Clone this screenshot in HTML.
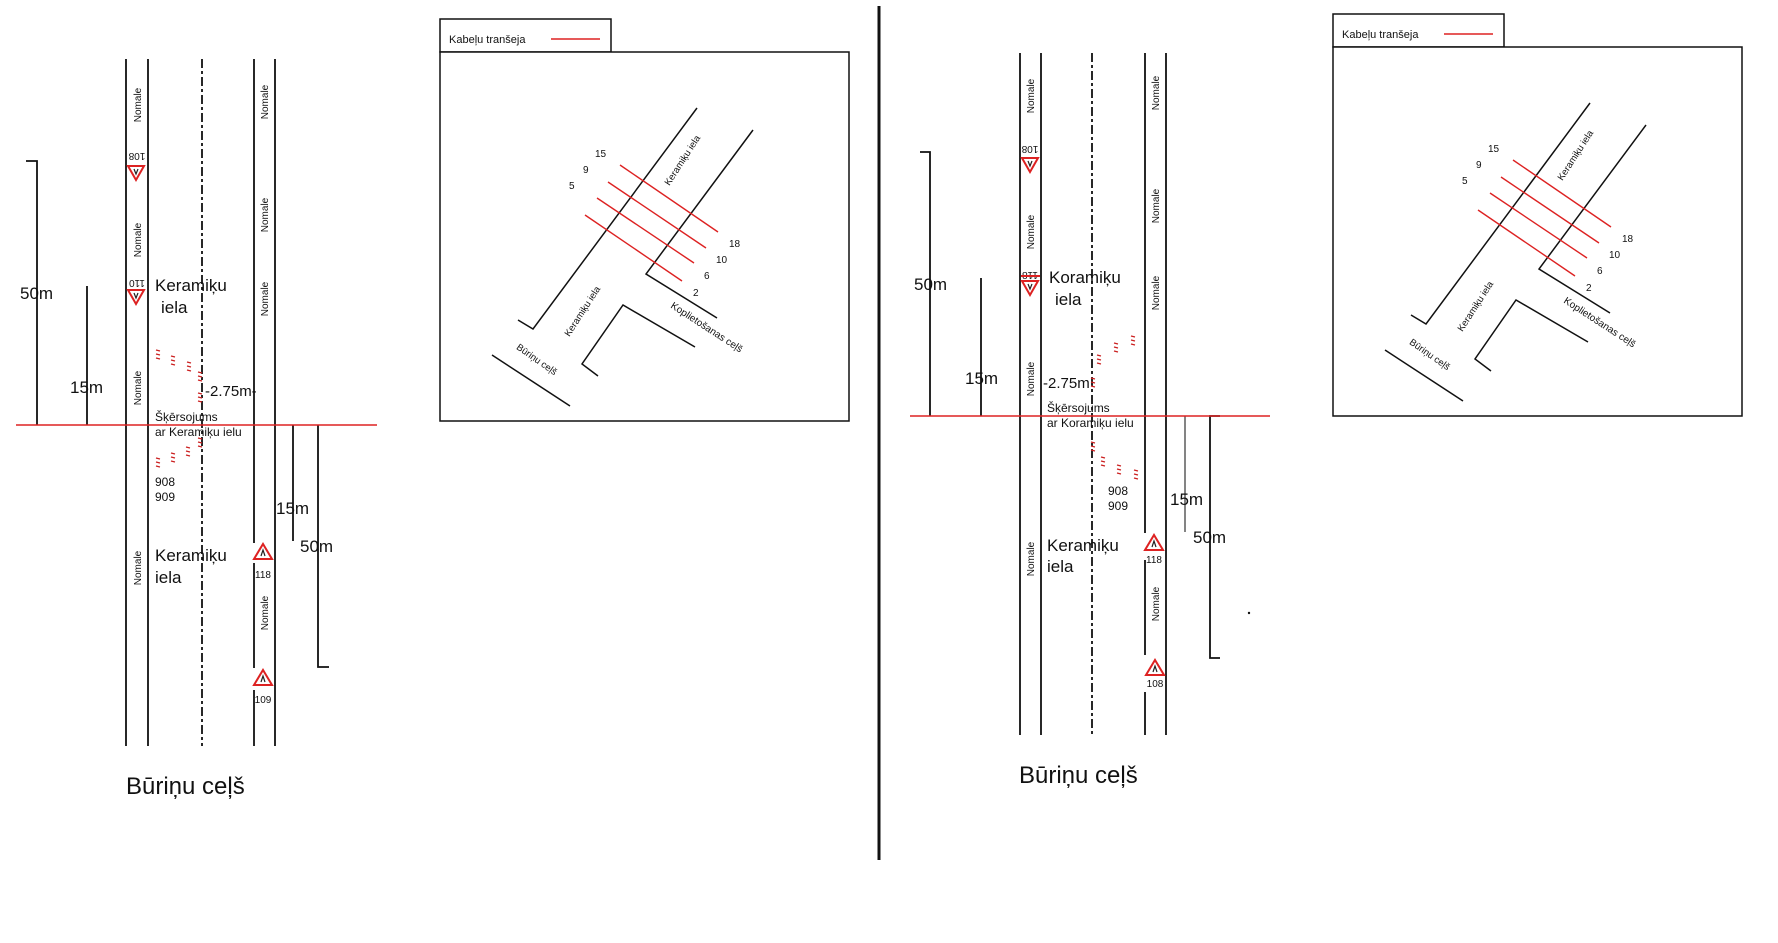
<!DOCTYPE html>
<html><head><meta charset="utf-8"><style>
html,body{margin:0;padding:0;background:#fff;}
svg{display:block;}
text{font-family:"Liberation Sans",Arial,sans-serif;fill:#111;}
</style></head><body>
<svg width="1778" height="943" viewBox="0 0 1778 943" xmlns="http://www.w3.org/2000/svg">
<defs>
<g id="sd"><polygon points="-8,-6 8,-6 0,8" fill="#fff" stroke="#d22" stroke-width="2"/><path d="M-2,-3 L0,2 L2,-3" stroke="#222" stroke-width="1.2" fill="none"/></g>
<g id="su"><polygon points="-9,7 9,7 0,-8" fill="#fff" stroke="#d22" stroke-width="2"/><path d="M-2,4 L0,-2 L2,4" stroke="#222" stroke-width="1.2" fill="none"/></g>
<g id="rm"><path d="M-2,-5 L2,-4 M-2,-1 L2,0 M-2,3 L2,4" stroke="#c22" stroke-width="1.4"/></g>
<g id="inset" stroke="#111" stroke-width="1.5" fill="none">
<rect x="440" y="19" width="171" height="33" fill="#fff"/>
<rect x="440" y="52" width="409" height="369" fill="#fff"/>
<line x1="551" y1="39" x2="600" y2="39" stroke="#d22"/>
<polyline points="518,320 533,329 697,108"/>
<polyline points="753,130 646,274 717,318"/>
<polyline points="598,376 582,364 623,305 695,347"/>
<line x1="492" y1="355" x2="570" y2="406"/>
<g stroke="#d22" stroke-width="1.4">
<line x1="620" y1="165" x2="718" y2="232"/>
<line x1="608" y1="182" x2="706" y2="248"/>
<line x1="597" y1="198" x2="694" y2="263"/>
<line x1="585" y1="215" x2="682" y2="281"/>
</g>
</g>
<g id="insetText" font-size="10">
<text x="449" y="43" font-size="11">Kabeļu tranšeja</text>
<text x="595" y="157">15</text><text x="583" y="173">9</text><text x="569" y="189">5</text>
<text x="729" y="247">18</text><text x="716" y="263">10</text><text x="704" y="279">6</text><text x="693" y="296">2</text>
<text transform="translate(685,162) rotate(-57)" text-anchor="middle" font-size="9.5">Keramiķu iela</text>
<text transform="translate(585,313) rotate(-57)" text-anchor="middle" font-size="9.5">Keramiķu iela</text>
<text transform="translate(705,330) rotate(33)" text-anchor="middle" font-size="10">Koplietošanas ceļš</text>
<text transform="translate(535,362) rotate(35)" text-anchor="middle" font-size="9.5">Būriņu ceļš</text>
</g>
</defs>

<!-- divider -->
<line x1="879" y1="6" x2="879" y2="860" stroke="#111" stroke-width="3"/>

<!-- LEFT PANEL -->
<g stroke="#111" stroke-width="1.8" fill="none">
<line x1="126" y1="59" x2="126" y2="746"/>
<line x1="148" y1="59" x2="148" y2="746"/>
<line x1="202" y1="59" x2="202" y2="746" stroke-dasharray="9 3 3 3"/>
<line x1="254" y1="59" x2="254" y2="543"/>
<line x1="254" y1="563" x2="254" y2="668"/>
<line x1="254" y1="690" x2="254" y2="746"/>
<line x1="275" y1="59" x2="275" y2="746"/>
<polyline points="26,161 37,161 37,425"/>
<line x1="87" y1="286" x2="87" y2="425"/>
<line x1="293" y1="425" x2="293" y2="541"/>
<polyline points="318,425 318,667 329,667"/>
<line x1="16" y1="425" x2="377" y2="425" stroke="#d22" stroke-width="1.5"/>
</g>
<g font-size="17">
<text x="20" y="299">50m</text><text x="70" y="393">15m</text>
<text x="276" y="514">15m</text><text x="300" y="552">50m</text>
</g>
<text x="205" y="396" font-size="15">-2.75m-</text>
<g font-size="17"><text x="155" y="291">Keramiķu</text><text x="161" y="313">iela</text>
<text x="155" y="561">Keramiķu</text><text x="155" y="583">iela</text></g>
<g font-size="12"><text x="155" y="421">Šķērsojums</text><text x="155" y="436">ar Keramiķu ielu</text>
<text x="155" y="486">908</text><text x="155" y="501">909</text></g>
<text x="126" y="794" font-size="24">Būriņu ceļš</text>
<g font-size="10">
<text transform="translate(141,105) rotate(-90)" text-anchor="middle">Nomale</text>
<text transform="translate(141,240) rotate(-90)" text-anchor="middle">Nomale</text>
<text transform="translate(141,388) rotate(-90)" text-anchor="middle">Nomale</text>
<text transform="translate(141,568) rotate(-90)" text-anchor="middle">Nomale</text>
<text transform="translate(268,102) rotate(-90)" text-anchor="middle">Nomale</text>
<text transform="translate(268,215) rotate(-90)" text-anchor="middle">Nomale</text>
<text transform="translate(268,299) rotate(-90)" text-anchor="middle">Nomale</text>
<text transform="translate(268,613) rotate(-90)" text-anchor="middle">Nomale</text>
<text transform="translate(137,153) rotate(180)" text-anchor="middle">108</text>
<text transform="translate(137,280) rotate(180)" text-anchor="middle">110</text>
<text x="263" y="578" text-anchor="middle">118</text>
<text x="263" y="703" text-anchor="middle">109</text>
</g>
<use href="#sd" x="136" y="172"/><use href="#sd" x="136" y="296"/>
<use href="#su" x="263" y="552"/><use href="#su" x="263" y="678"/>
<use href="#rm" x="158" y="355"/><use href="#rm" x="173" y="361"/><use href="#rm" x="189" y="367"/>
<use href="#rm" x="200" y="377"/><use href="#rm" x="200" y="398"/><use href="#rm" x="200" y="443"/>
<use href="#rm" x="188" y="452"/><use href="#rm" x="173" y="458"/><use href="#rm" x="158" y="463"/>
<use href="#inset"/><use href="#insetText"/>

<!-- RIGHT PANEL -->
<g stroke="#111" stroke-width="1.8" fill="none">
<line x1="1020" y1="53" x2="1020" y2="735"/>
<line x1="1041" y1="53" x2="1041" y2="735"/>
<line x1="1092" y1="53" x2="1092" y2="735" stroke-dasharray="9 3 3 3"/>
<line x1="1145" y1="53" x2="1145" y2="533"/>
<line x1="1145" y1="560" x2="1145" y2="655"/>
<line x1="1145" y1="692" x2="1145" y2="735"/>
<line x1="1166" y1="53" x2="1166" y2="735"/>
<polyline points="920,152 930,152 930,416"/>
<line x1="981" y1="278" x2="981" y2="416"/>
<line x1="1185" y1="416" x2="1185" y2="532" stroke="#777"/>
<polyline points="1220,416 1210,416 1210,658 1220,658"/>
<line x1="910" y1="416" x2="1270" y2="416" stroke="#d22" stroke-width="1.5"/>
</g>
<g font-size="17">
<text x="914" y="290">50m</text><text x="965" y="384">15m</text>
<text x="1170" y="505">15m</text><text x="1193" y="543">50m</text>
</g>
<text x="1043" y="388" font-size="15">-2.75m</text>
<g font-size="17"><text x="1049" y="283">Koramiķu</text><text x="1055" y="305">iela</text>
<text x="1047" y="551">Keramiķu</text><text x="1047" y="572">iela</text></g>
<g font-size="12"><text x="1047" y="412">Šķērsojums</text><text x="1047" y="427">ar Koramiķu ielu</text>
<text x="1108" y="495">908</text><text x="1108" y="510">909</text></g>
<text x="1019" y="783" font-size="24">Būriņu ceļš</text>
<g font-size="10">
<text transform="translate(1034,96) rotate(-90)" text-anchor="middle">Nomale</text>
<text transform="translate(1034,232) rotate(-90)" text-anchor="middle">Nomale</text>
<text transform="translate(1034,379) rotate(-90)" text-anchor="middle">Nomale</text>
<text transform="translate(1034,559) rotate(-90)" text-anchor="middle">Nomale</text>
<text transform="translate(1159,93) rotate(-90)" text-anchor="middle">Nomale</text>
<text transform="translate(1159,206) rotate(-90)" text-anchor="middle">Nomale</text>
<text transform="translate(1159,293) rotate(-90)" text-anchor="middle">Nomale</text>
<text transform="translate(1159,604) rotate(-90)" text-anchor="middle">Nomale</text>
<text transform="translate(1030,146) rotate(180)" text-anchor="middle">108</text>
<text transform="translate(1030,272) rotate(180)" text-anchor="middle">118</text>
<text x="1154" y="563" text-anchor="middle">118</text>
<text x="1155" y="687" text-anchor="middle">108</text>
</g>
<line x1="1021" y1="276" x2="1040" y2="276" stroke="#d22" stroke-width="2"/>
<use href="#sd" x="1030" y="164"/><use href="#sd" x="1030" y="287"/>
<use href="#su" x="1154" y="543"/><use href="#su" x="1155" y="668"/>
<use href="#rm" x="1099" y="360"/><use href="#rm" x="1116" y="348"/><use href="#rm" x="1133" y="341"/>
<use href="#rm" x="1093" y="383"/><use href="#rm" x="1093" y="447"/><use href="#rm" x="1103" y="462"/>
<use href="#rm" x="1119" y="470"/><use href="#rm" x="1136" y="475"/>
<g transform="translate(893,-5)"><use href="#inset"/><use href="#insetText"/></g>
<circle cx="1249" cy="613" r="1.2" fill="#111"/>
</svg>
</body></html>
